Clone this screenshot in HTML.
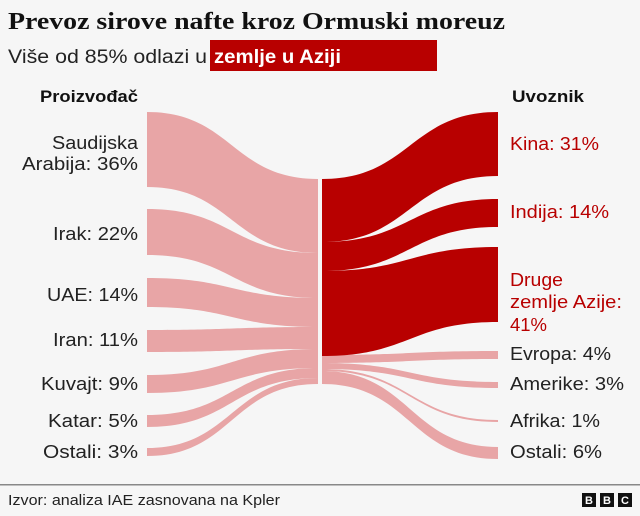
<!DOCTYPE html>
<html><head><meta charset="utf-8"><style>
body{margin:0;background:#f6f6f6;}
svg{display:block;font-family:"Liberation Sans",sans-serif;}
</style></head><body>
<svg width="640" height="516" viewBox="0 0 640 516" xmlns="http://www.w3.org/2000/svg">
<rect width="640" height="516" fill="#f6f6f6"/>
<text x="8" y="29" font-family="Liberation Serif,serif" font-weight="bold" font-size="24" fill="#111" textLength="497" lengthAdjust="spacingAndGlyphs">Prevoz sirove nafte kroz Ormuski moreuz</text>
<rect x="210" y="40" width="227" height="31" fill="#b80000"/>
<text x="8" y="63" font-size="19" fill="#222" textLength="199" lengthAdjust="spacingAndGlyphs">Više od 85% odlazi u</text>
<text x="214" y="63" font-size="19" font-weight="bold" fill="#fff" textLength="127" lengthAdjust="spacingAndGlyphs">zemlje u Aziji</text>
<text x="40" y="102" font-size="17" font-weight="bold" fill="#111" textLength="98" lengthAdjust="spacingAndGlyphs">Proizvođač</text>
<text x="512" y="102" font-size="17" font-weight="bold" fill="#111" textLength="72" lengthAdjust="spacingAndGlyphs">Uvoznik</text>
<g fill="#e8a5a6">
<path d="M147,112 C232,112 232,179 318,179 L318,253 C232,253 232,187 147,187Z"/>
<path d="M147,209 C232,209 232,253 318,253 L318,298 C232,298 232,255 147,255Z"/>
<path d="M147,278 C232,278 232,298 318,298 L318,327 C232,327 232,307 147,307Z"/>
<path d="M147,330 C232,330 232,327 318,327 L318,349 C232,349 232,352 147,352Z"/>
<path d="M147,375 C232,375 232,349 318,349 L318,368 C232,368 232,393 147,393Z"/>
<path d="M147,415 C232,415 232,368 318,368 L318,378 C232,378 232,427 147,427Z"/>
<path d="M147,448 C232,448 232,378 318,378 L318,384 C232,384 232,456 147,456Z"/>
<path d="M322,355 C410,355 410,351 498,351 L498,359 C410,359 410,363 322,363Z"/>
<path d="M322,363 C410,363 410,382 498,382 L498,388 C410,388 410,369 322,369Z"/>
<path d="M322,369 C410,369 410,420 498,420 L498,422 C410,422 410,371 322,371Z"/>
<path d="M322,371 C410,371 410,447 498,447 L498,459 C410,459 410,384 322,384Z"/>
</g>
<g fill="#b80000">
<path d="M322,179 C410,179 410,112 498,112 L498,176 C410,176 410,242 322,242Z"/>
<path d="M322,242 C410,242 410,199 498,199 L498,227 C410,227 410,271 322,271Z"/>
<path d="M322,271 C410,271 410,247 498,247 L498,322 C410,322 410,356 322,356Z"/>
</g>
<g font-size="18" fill="#222" text-anchor="end">
<text x="138" y="149" textLength="86" lengthAdjust="spacingAndGlyphs">Saudijska</text>
<text x="138" y="170" textLength="116" lengthAdjust="spacingAndGlyphs">Arabija: 36%</text>
<text x="138" y="240" textLength="85" lengthAdjust="spacingAndGlyphs">Irak: 22%</text>
<text x="138" y="301" textLength="91" lengthAdjust="spacingAndGlyphs">UAE: 14%</text>
<text x="138" y="346" textLength="85" lengthAdjust="spacingAndGlyphs">Iran: 11%</text>
<text x="138" y="390" textLength="97" lengthAdjust="spacingAndGlyphs">Kuvajt: 9%</text>
<text x="138" y="427" textLength="90" lengthAdjust="spacingAndGlyphs">Katar: 5%</text>
<text x="138" y="458" textLength="95" lengthAdjust="spacingAndGlyphs">Ostali: 3%</text>
</g>
<g font-size="18" fill="#b80000">
<text x="510" y="150" textLength="89" lengthAdjust="spacingAndGlyphs">Kina: 31%</text>
<text x="510" y="218" textLength="99" lengthAdjust="spacingAndGlyphs">Indija: 14%</text>
<text x="510" y="286" textLength="53" lengthAdjust="spacingAndGlyphs">Druge</text>
<text x="510" y="308" textLength="112" lengthAdjust="spacingAndGlyphs">zemlje Azije:</text>
<text x="510" y="331" textLength="37" lengthAdjust="spacingAndGlyphs">41%</text>
</g>
<g font-size="18" fill="#222">
<text x="510" y="360" textLength="101" lengthAdjust="spacingAndGlyphs">Evropa: 4%</text>
<text x="510" y="390" textLength="114" lengthAdjust="spacingAndGlyphs">Amerike: 3%</text>
<text x="510" y="427" textLength="90" lengthAdjust="spacingAndGlyphs">Afrika: 1%</text>
<text x="510" y="458" textLength="92" lengthAdjust="spacingAndGlyphs">Ostali: 6%</text>
</g>
<rect x="0" y="484" width="640" height="1.5" fill="#888"/>
<text x="8" y="505" font-size="15" fill="#222" textLength="272" lengthAdjust="spacingAndGlyphs">Izvor: analiza IAE zasnovana na Kpler</text>
<g font-size="11" font-weight="bold" fill="#fff" text-anchor="middle">
<rect x="582" y="493" width="14" height="14" fill="#111"/><text x="589" y="504">B</text>
<rect x="600" y="493" width="14" height="14" fill="#111"/><text x="607" y="504">B</text>
<rect x="618" y="493" width="14" height="14" fill="#111"/><text x="625" y="504">C</text>
</g>
</svg>
</body></html>
